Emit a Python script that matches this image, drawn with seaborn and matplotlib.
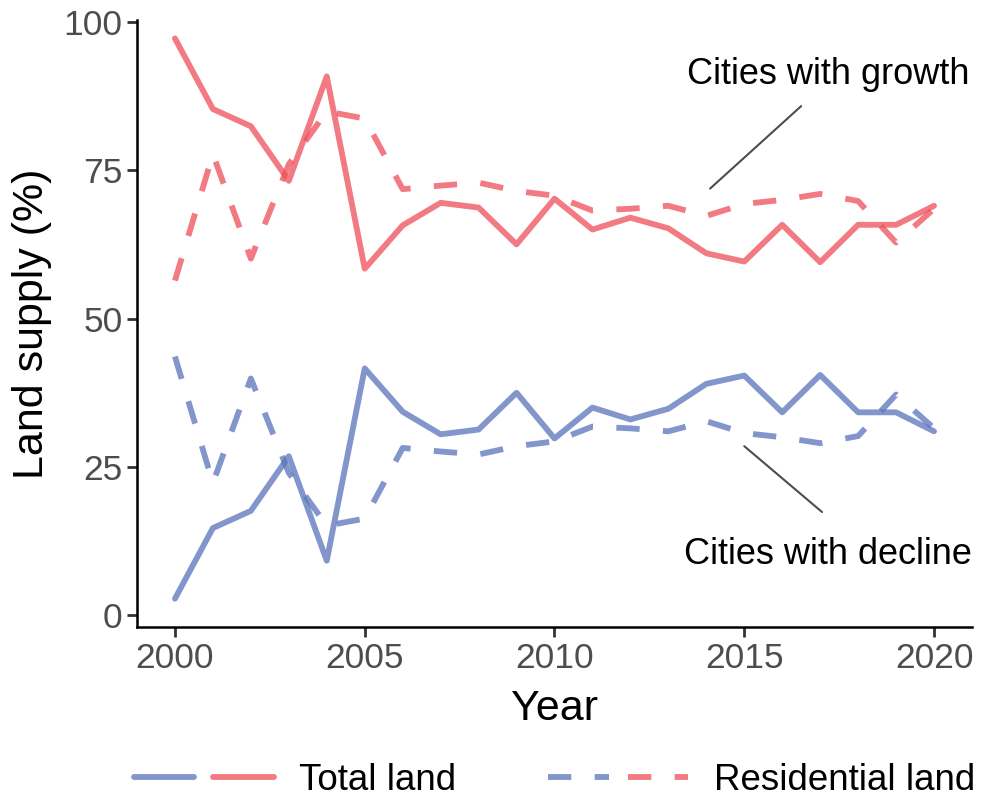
import numpy as np
import pandas as pd
import matplotlib.pyplot as plt
import seaborn as sns
from matplotlib.lines import Line2D
from matplotlib.legend_handler import HandlerTuple

# Valores
years = list(range(2000, 2021))
growth_total = [97.2, 85.3, 82.4, 73.2, 90.8, 58.4, 65.7, 69.5, 68.7, 62.5, 70.2,
                65.0, 67.0, 65.2, 61.0, 59.6, 65.8, 59.5, 65.8, 65.8, 69.0]
decline_total = [2.8, 14.7, 17.6, 26.8, 9.2, 41.6, 34.3, 30.5, 31.3, 37.5, 29.8,
                 35.0, 33.0, 34.8, 39.0, 40.4, 34.2, 40.5, 34.2, 34.2, 31.0]
growth_resid = [56.4, 77.7, 60.1, 76.0, 84.9, 83.7, 71.8, 72.4, 72.9, 71.5, 70.7,
                68.2, 68.5, 69.0, 67.3, 69.3, 70.0, 71.0, 69.8, 62.8, 68.5]
decline_resid = [43.6, 22.3, 39.9, 24.0, 15.1, 16.3, 28.2, 27.6, 27.1, 28.5, 29.3,
                 31.8, 31.5, 31.0, 32.7, 30.7, 30.0, 29.0, 30.2, 37.2, 31.5]

groups = ['Cities with growth', 'Cities with decline']
types = ['Total land', 'Residential land']

frames = []
for g, t, v in [(groups[0], types[0], growth_total), (groups[1], types[0], decline_total),
                (groups[0], types[1], growth_resid), (groups[1], types[1], decline_resid)]:
    frames.append(pd.DataFrame({'year': years, 'value': v, 'group': g, 'type': t}))
df = pd.concat(frames, ignore_index=True)

red = '#EE4E58'
blue = '#5873BB'
lw = 4.2
palette = {groups[0]: red, groups[1]: blue}
dashes = {types[0]: '', types[1]: (4, 4)}

sns.set_style('ticks')
plt.rcParams['font.family'] = ['Liberation Sans', 'DejaVu Sans']
plt.rcParams['text.color'] = 'black'
plt.rcParams['axes.labelcolor'] = 'black'

fig = plt.figure(figsize=(9.82, 8.01), dpi=100)
ax = fig.add_axes([0.1395, 0.217, 0.8503, 0.758])

sns.lineplot(data=df, x='year', y='value', hue='group', style='type',
             palette=palette, dashes=dashes, linewidth=lw, alpha=0.75,
             legend=False, ax=ax)

ax.set_xlim(1999.0, 2021.0)
ax.set_ylim(-2.0, 100.3)
ax.set_xticks([2000, 2005, 2010, 2015, 2020])
ax.set_yticks([0, 25, 50, 75, 100])
ax.tick_params(labelsize=25.5, labelcolor='#4D4D4D', color='#333333', width=2, length=7)
for s in ['left', 'bottom']:
    ax.spines[s].set_linewidth(1.8)
    ax.spines[s].set_color('black')
sns.despine(ax=ax)
ax.set_xlabel('Year', fontsize=31, labelpad=10)
ax.set_ylabel('Land supply (%)', fontsize=31, labelpad=8)

# Anotaciones
ax.plot([2016.5, 2014.1], [85.8, 71.9], color='#4D4D4D', lw=1.5)
ax.text(2017.2, 91.1, 'Cities with growth', fontsize=26, ha='center', va='center')
ax.plot([2017.05, 2015.0], [17.4, 28.5], color='#4D4D4D', lw=1.5)
ax.text(2017.2, 10.2, 'Cities with decline', fontsize=26, ha='center', va='center')

# Leyenda
h_total = (Line2D([], [], color=blue, lw=lw, alpha=0.75),
           Line2D([], [], color=red, lw=lw, alpha=0.75))
h_resid = (Line2D([], [], color=blue, lw=lw, alpha=0.75, dashes=(4, 4)),
           Line2D([], [], color=red, lw=lw, alpha=0.75, dashes=(4, 4)))
ax.legend([h_total, h_resid], types, handler_map={tuple: HandlerTuple(ndivide=None, pad=0.5)},
          loc='center', bbox_to_anchor=(0.5, -0.252), ncol=2, frameon=False,
          fontsize=26.5, handlelength=3.8, handletextpad=0.7, columnspacing=2.5)

plt.savefig('out.png', dpi=100)
